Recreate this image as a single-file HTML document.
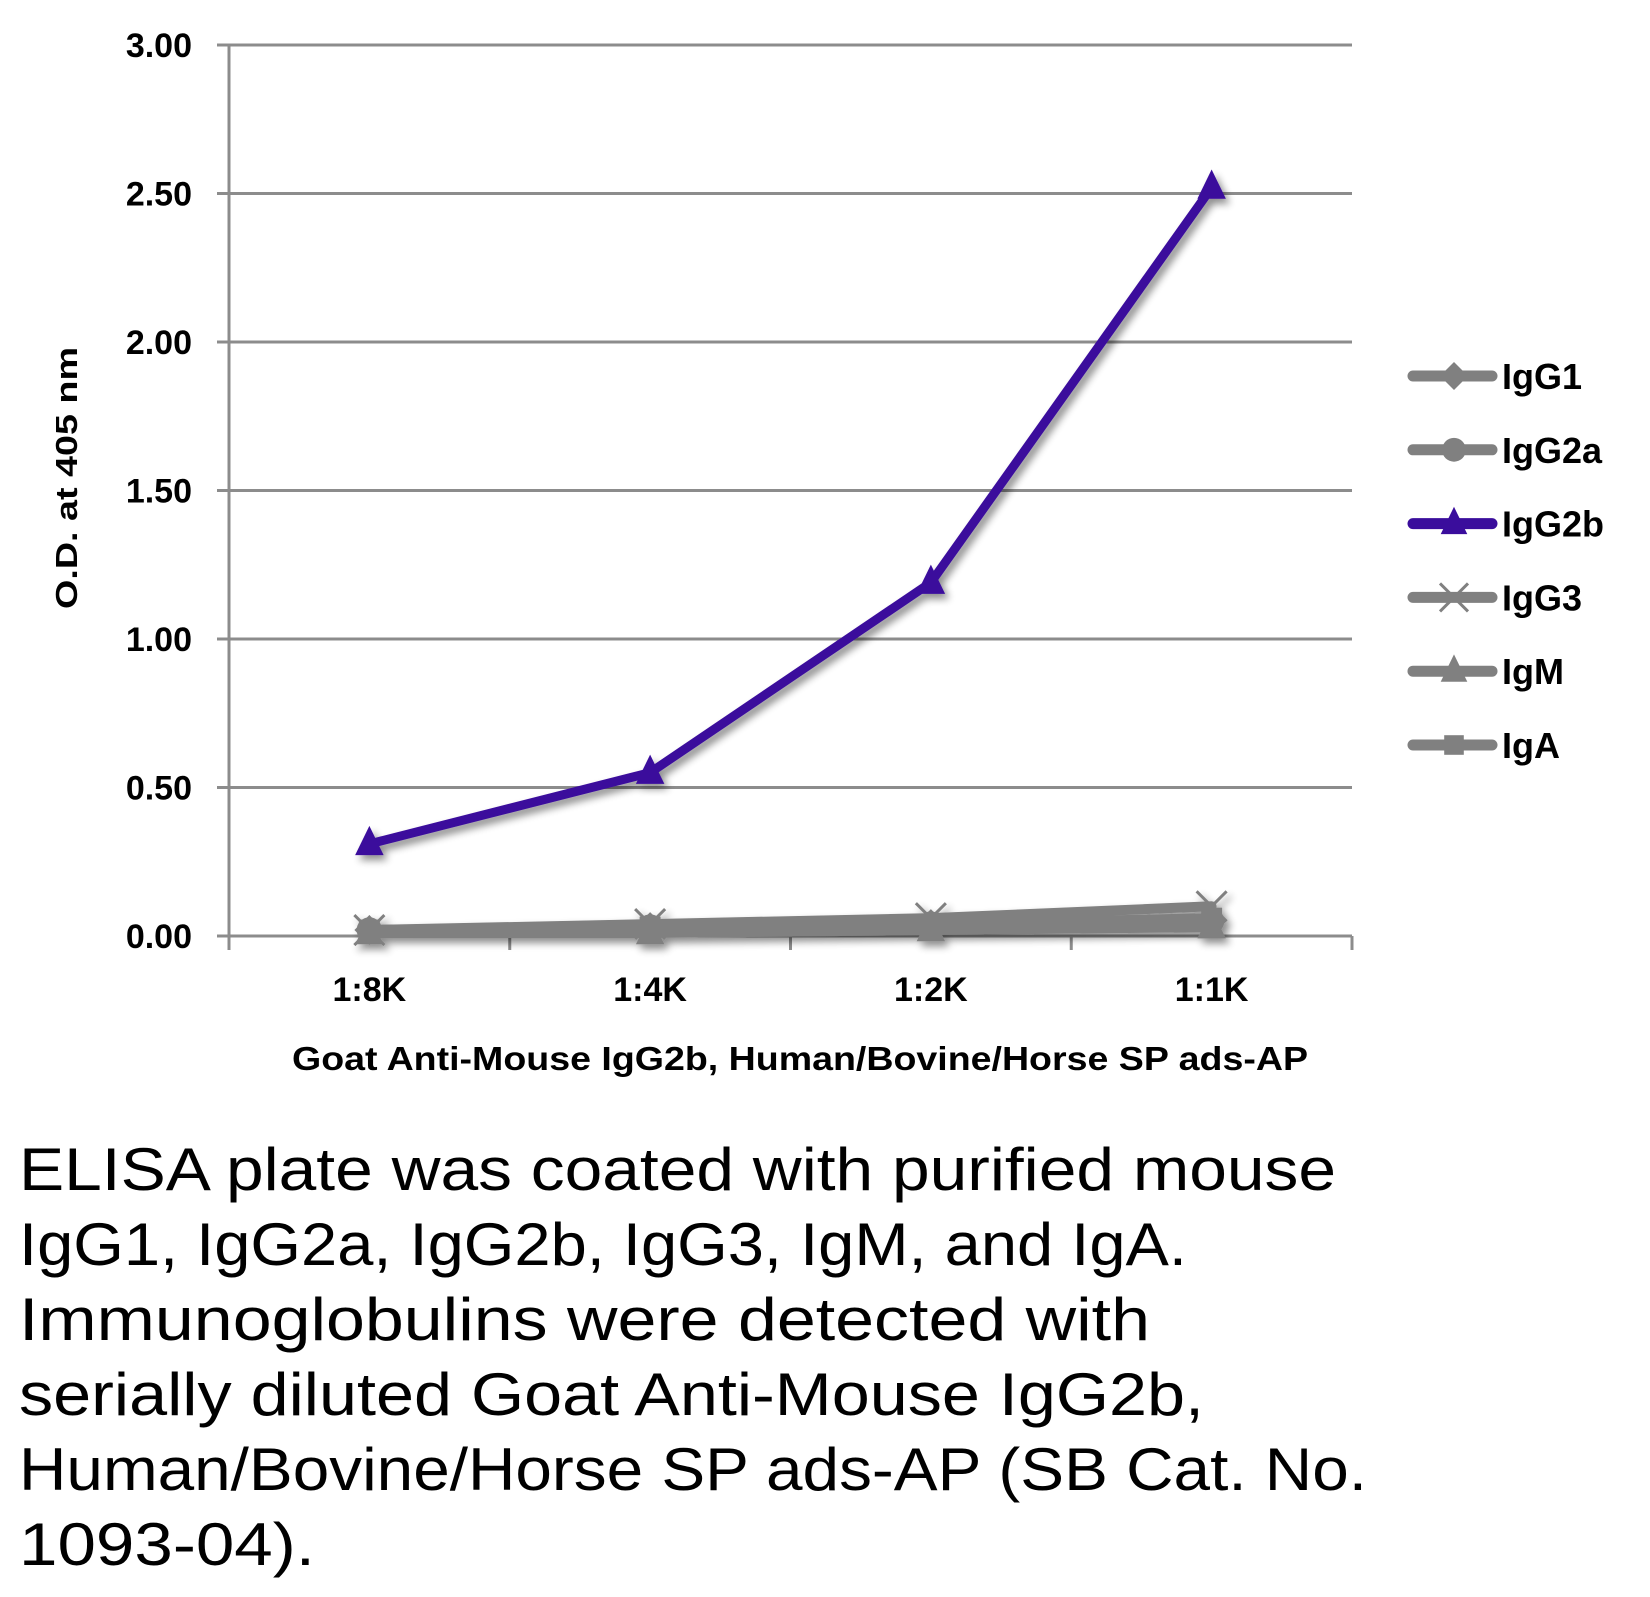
<!DOCTYPE html>
<html><head><meta charset="utf-8"><style>
html,body{margin:0;padding:0;background:#fff;}
svg{display:block;font-family:"Liberation Sans",sans-serif;}
</style></head><body>
<svg id="chart" width="1650" height="1597" viewBox="0 0 1650 1597" xmlns="http://www.w3.org/2000/svg">
<defs><filter id="sh" x="-10%" y="-10%" width="120%" height="120%"><feGaussianBlur in="SourceAlpha" stdDeviation="4"/><feOffset dx="4" dy="5"/><feComponentTransfer><feFuncA type="linear" slope="0.45"/></feComponentTransfer><feMerge><feMergeNode/><feMergeNode in="SourceGraphic"/></feMerge></filter></defs>
<g id="grid"></g>
<g id="axes"></g>
<g id="series" filter="url(#sh)"></g>
<g id="legend"></g>
<text transform="translate(77,478) rotate(-90)" text-anchor="middle" font-size="31" font-weight="bold" textLength="262" lengthAdjust="spacingAndGlyphs">O.D. at 405 nm</text>
<text x="800" y="1070" text-anchor="middle" font-size="33" font-weight="bold" textLength="1016" lengthAdjust="spacingAndGlyphs">Goat Anti-Mouse IgG2b, Human/Bovine/Horse SP ads-AP</text>
<g font-size="60">
<text x="19" y="1190" textLength="1317" lengthAdjust="spacingAndGlyphs">ELISA plate was coated with purified mouse</text>
<text x="19" y="1265" textLength="1168" lengthAdjust="spacingAndGlyphs">IgG1, IgG2a, IgG2b, IgG3, IgM, and IgA.</text>
<text x="19" y="1340" textLength="1131" lengthAdjust="spacingAndGlyphs">Immunoglobulins were detected with</text>
<text x="19" y="1415" textLength="1185" lengthAdjust="spacingAndGlyphs">serially diluted Goat Anti-Mouse IgG2b,</text>
<text x="19" y="1490" textLength="1348" lengthAdjust="spacingAndGlyphs">Human/Bovine/Horse SP ads-AP (SB Cat. No.</text>
<text x="19" y="1565" textLength="296" lengthAdjust="spacingAndGlyphs">1093-04).</text>
</g>
</svg>
<script>
const categories = ["1:8K","1:4K","1:2K","1:1K"];
const yTicks = [0,0.5,1,1.5,2,2.5,3];
const yTickLabels = ["0.00","0.50","1.00","1.50","2.00","2.50","3.00"];
const seriesNames = ["IgG1","IgG2a","IgG2b","IgG3","IgM","IgA"];
const igg1 = [0.02,0.03,0.04,0.05];
const igg2a = [0.02,0.03,0.04,0.05];
const igg2b = [0.31,0.55,1.19,2.52];
const igg3 = [0.02,0.04,0.06,0.10];
const igm = [0.01,0.01,0.02,0.03];
const iga = [0.02,0.03,0.04,0.06];

const NS="http://www.w3.org/2000/svg";
const X0=229,X1=1352,Y0=936,Y3=45;
const band=(X1-X0)/categories.length;
const xs=i=>X0+band*(i+0.5);
const ys=v=>Y0-(v/3)*(Y0-Y3);
function mk(tag,attrs,parent){const e=document.createElementNS(NS,tag);for(const k in attrs)e.setAttribute(k,attrs[k]);parent.appendChild(e);return e;}
const grid=document.getElementById('grid'),axes=document.getElementById('axes'),ser=document.getElementById('series'),leg=document.getElementById('legend');
yTicks.forEach((t,i)=>{
  const l=mk('line',{x1:217,x2:X1,y1:ys(t),y2:ys(t),stroke:'#8c8c8c','stroke-width':3},grid);
  
  
  const tx=mk('text',{x:192,y:ys(t)+12,'text-anchor':'end','font-size':34,'font-weight':'bold'},axes);
  tx.textContent=yTickLabels[i];
  
  
});
const ya=mk('line',{x1:X0,x2:X0,y1:Y3,y2:Y0+12,stroke:'#8c8c8c','stroke-width':3},axes);


for(let i=0;i<=categories.length;i++){
  const t=mk('line',{x1:X0+band*i,x2:X0+band*i,y1:Y0,y2:Y0+14,stroke:'#8c8c8c','stroke-width':3},axes);
  
  
}
categories.forEach((c,i)=>{
  const tx=mk('text',{x:xs(i),y:1001,'text-anchor':'middle','font-size':34,'font-weight':'bold'},axes);
  tx.textContent=c;
  
  
});
function marker(type,x,y,col,g,s){
  if(type==='diamond') return mk('polygon',{points:`${x},${y-s} ${x+s},${y} ${x},${y+s} ${x-s},${y}`,fill:col},g);
  if(type==='circle') return mk('circle',{cx:x,cy:y,r:s*0.85,fill:col},g);
  if(type==='triangle') return mk('polygon',{points:`${x},${y-s*1.2} ${x+s*0.95},${y+s*0.75} ${x-s*0.95},${y+s*0.75}`,fill:col},g);
  if(type==='x'){const p=mk('path',{d:`M${x-s},${y-s}L${x+s},${y+s}M${x+s},${y-s}L${x-s},${y+s}`,stroke:col,'stroke-width':3,fill:'none'},g);return p;}
  if(type==='square') return mk('rect',{x:x-s*0.7,y:y-s*0.7,width:s*1.4,height:s*1.4,fill:col},g);
}
const allSeries=[igg1,igg2a,igg2b,igg3,igm,iga];
const cols=['#808080','#808080','#3a0d9c','#808080','#808080','#808080'];
const marks=['diamond','circle','triangle','x','triangle','square'];
const order=[0,1,3,4,5,2];
order.forEach(si=>{
  const g=mk('g',{},ser);
  
  
  const d=allSeries[si].map((v,i)=>(i?'L':'M')+xs(i)+','+ys(v)).join('');
  const p=mk('path',{d:d,stroke:cols[si],'stroke-width':si===2?9:10,fill:'none','stroke-linejoin':'round','stroke-linecap':'round'},g);
  
  
  allSeries[si].forEach((v,i)=>{
    const m=marker(marks[si],xs(i),ys(v),cols[si],g,15);
    
    
  });
});
seriesNames.forEach((n,i)=>{
  const y=376+73.8*i;
  const g=mk('g',{},leg);
  
  
  mk('line',{x1:1413,x2:1492,y1:y,y2:y,stroke:cols[i],'stroke-width':11,'stroke-linecap':'round'},g);
  marker(marks[i],1454,y,cols[i],g,14);
  const t=mk('text',{x:1502,y:y+13,'font-size':36,'font-weight':'bold'},g);
  t.textContent=n;
});
</script>
</body></html>
